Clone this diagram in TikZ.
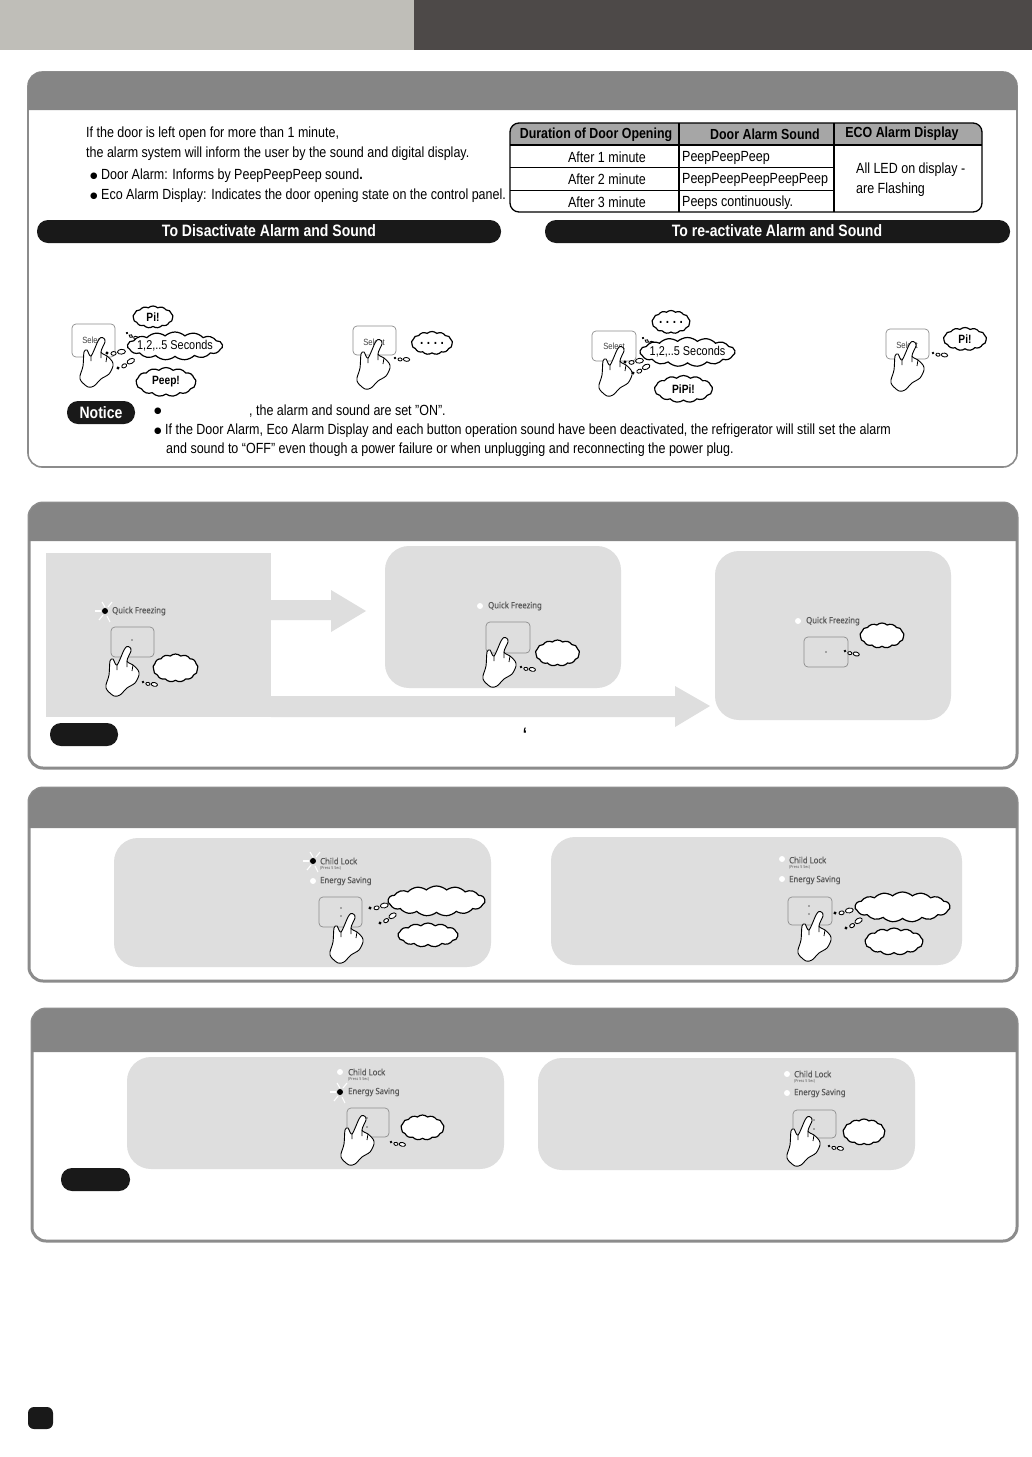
\documentclass[tikz,border=0pt]{standalone}
\usepackage{fontspec}
\setmainfont[FakeStretch=0.85]{Liberation Sans}
\newfontfamily\panelfont[FakeStretch=0.9,FakeBold=0.5]{Noto Sans}
\newfontfamily\tinyfont[FakeStretch=0.9]{Noto Sans}
\newfontfamily\dotfont{DejaVu Sans}
\usetikzlibrary{shapes.symbols}
\definecolor{barlight}{HTML}{BFBEB8}
\definecolor{bardark}{HTML}{4D4948}
\newcommand{\dotmark}{\raisebox{0.8pt}{\dotfont\fontsize{8.6}{8}\selectfont ●}}

\begin{document}
\begin{tikzpicture}[
    x=1pt, y=-1pt,
    txt/.style={anchor=west, inner sep=0pt, font=\fontsize{14.7}{16}\selectfont},
    cell/.style={inner sep=0pt, font=\fontsize{14.7}{16}\selectfont},
    headcell/.style={inner sep=0pt, font=\fontsize{14.6}{16}\selectfont\bfseries},
    pilltext/.style={inner sep=0pt, text=white, font=\fontsize{16.5}{19}\selectfont\bfseries},
    pill/.style={fill=black!90, rounded corners=11pt},
    greybox/.style={fill=black!13, rounded corners=24pt},
    talk/.style={cloud, cloud puffs=13, cloud puff arc=85, cloud ignores aspect, draw=black,
        fill=white, line width=1.2pt, inner sep=0pt},
    saytext/.style={inner sep=0pt, font=\fontsize{12}{14}\selectfont\bfseries},
    secstext/.style={inner sep=0pt, font=\fontsize{12.8}{14}\selectfont},
    dotstext/.style={inner sep=0pt, font=\fontsize{14}{14}\selectfont\bfseries\addfontfeature{LetterSpace=25}},
    button/.style={draw=black!45, rounded corners=4pt, line width=0.7pt},
    ledtext/.style={anchor=west, inner sep=0pt, text=black!65, font=\panelfont\fontsize{8.6}{9}\selectfont},
    tinytext/.style={anchor=west, inner sep=0pt, text=black!65, font=\tinyfont\fontsize{4}{4}\selectfont},
    selecttext/.style={inner sep=0pt, text=black!75, font=\fontsize{9}{9}\selectfont},
    hand/.pic={
        \draw[fill=white, line width=0.9pt] plot [smooth cycle, tension=0.5] coordinates {
            (-1,-0.5) (2,0.5) (3,4) (-1,14) (5,18) (10,23) (11,28) (7,36) (-1,41) (-8,48) (-14,49)
            (-21,43) (-22,38) (-19,28) (-18,14) (-15,12) (-11,18) (-4,3)
        };
        \draw[line width=0.8pt] (-1,14) -- (-1,20) (5,18) -- (4,24) (-11,18) -- (-11,23);
    },
    ledon/.pic={
        \fill[black] (0,0) circle (3);
        \foreach \rx/\ry/\sx/\sy in {-4/0/-10/0, 0/-4/-3/-9, 3/-4/7/-9, -2/4/-6/9, 2/5/5/11}
            \draw[white, line width=1.1pt] (\rx,\ry) -- (\sx,\sy);
    },
    ledoff/.pic={\fill[white] (0,0) circle (3);},
    puffs/.pic={
        \fill[black] (0,0) circle (1.7);
        \draw[fill=white, line width=0.85pt] (6.5,1) ellipse (2.6 and 1.9);
        \draw[fill=white, line width=0.85pt] (14.5,0) ellipse (4 and 2.4);
    }
]
\useasboundingbox (0,0) rectangle (1032,1457);
\fill[white] (0,0) rectangle (1032,1457);

% Top bar
\fill[barlight] (0,0) rectangle (414,50);
\fill[bardark] (414,0) rectangle (1032,50);

% Panels with their grey heads
\foreach \xa/\ya/\xb/\yb/\yh/\lw in {28/72/1017/467/110/1.6, 29/503/1017/768/541/3, 29/788/1017/981/828/3, 32/1009/1017/1241/1052/3} {
    \draw[black!45, line width=\lw pt, rounded corners=14pt] (\xa,\ya) rectangle (\xb,\yb);
    \fill[black!48] (\xa,\yh) [rounded corners=14pt] -- (\xa,\ya) -- (\xb,\ya) [sharp corners] -- (\xb,\yh) -- cycle;
}

% Door alarm text
\node[txt] (doorA) at (86,133.5) {If the door is left open for more than 1 minute,};
\node[txt] (doorB) at (86,153.5) {the alarm system will inform the user by the sound and digital display.};
\node[txt] (doorC) at (90,175.5) {\dotmark\ Door Alarm: Informs by PeepPeepPeep sound\textbf{.}};
\node[txt] (doorD) at (90,195.5) {\dotmark\ Eco Alarm Display: Indicates the door opening state on the control panel.};

% Alarm table
\fill[black!35] (510,145) [rounded corners=9pt] -- (510,123) -- (982,123) [sharp corners] -- (982,145) -- cycle;
\draw[line width=1.1pt] (510,145) -- (982,145);
\draw[line width=0.9pt] (510,167) -- (834,167);
\draw[line width=0.9pt] (510,190) -- (834,190);
\draw[line width=1.1pt] (679,123) -- (679,212);
\draw[line width=1.1pt] (834,123) -- (834,212);
\draw[line width=1.3pt, rounded corners=9pt] (510,123) rectangle (982,212);
\node[headcell] (headDuration) at (596,134.5) {Duration of Door Opening};
\node[headcell] (headSound) at (765,134.5) {Door Alarm Sound};
\node[headcell] (headEco) at (902,133.5) {ECO Alarm Display};
\node[cell] (afterA) at (607,157.5) {After 1 minute};
\node[cell] (afterB) at (607,179.5) {After 2 minute};
\node[cell] (afterC) at (607,202.5) {After 3 minute};
\node[txt] (soundA) at (682,157.5) {PeepPeepPeep};
\node[txt] (soundB) at (682,179.5) {PeepPeepPeepPeepPeep};
\node[txt] (soundC) at (682,202.5) {Peeps continuously.};
\node[txt] (ledA) at (856,170) {All LED on display -};
\node[txt] (ledB) at (856,190) {are Flashing};

% Black bars
\fill[pill] (37,220) rectangle (501,243);
\node[pilltext] (barOff) at (269,231) {To Disactivate Alarm and Sound};
\fill[pill] (545,220) rectangle (1010,243);
\node[pilltext] (barOn) at (777,231) {To re-activate Alarm and Sound};

% Select buttons, first hand
\draw[button] (72,324) rectangle (115,357);
\node[selecttext] (selectA) at (93,340) {Select};
\pic at (102,338) {hand};
\pic at (127,333) [rotate=-30, scale=0.75] {puffs};
\pic at (107,353) [rotate=5] {puffs};
\pic at (118,368) [rotate=28] {puffs};
\node[talk, minimum width=40, minimum height=22, label={[saytext]center:Pi!}] (cloudPiA) at (153,317) {};
\node[talk, cloud puffs=15, minimum width=95, minimum height=28, label={[secstext]center:1,2,..5 Seconds}] (cloudSecA) at (175,346) {};
\node[talk, minimum width=60, minimum height=29, label={[saytext]center:Peep!}] (cloudPeep) at (166,382) {};

% Second hand
\draw[button] (353,326) rectangle (396,355);
\node[selecttext] (selectB) at (374,342) {Select};
\pic at (379,340) {hand};
\pic at (395,358) [rotate=-7, scale=0.8] {puffs};
\node[talk, minimum width=41, minimum height=23, label={[dotstext]center:....}] (cloudDotsA) at (432,343) {};

% Third hand
\draw[button] (592,331) rectangle (636,361);
\node[selecttext] (selectC) at (614,346) {Select};
\pic at (621,347) {hand};
\pic at (643,338) [rotate=-30, scale=0.75] {puffs};
\pic at (625,362) [rotate=5] {puffs};
\pic at (633,373) [rotate=25] {puffs};
\node[talk, minimum width=38, minimum height=23, label={[dotstext]center:....}] (cloudDotsB) at (671,322) {};
\node[talk, cloud puffs=15, minimum width=95, minimum height=29, label={[secstext]center:1,2,..5 Seconds}] (cloudSecB) at (687.5,352) {};
\node[talk, minimum width=58, minimum height=27, label={[saytext]center:PiPi!}] (cloudPiPi) at (683.5,389) {};

% Fourth hand
\draw[button] (886,329) rectangle (929,359);
\node[selecttext] (selectD) at (907,345) {Select};
\pic at (913,342) {hand};
\pic at (933,353) [rotate=-10, scale=0.8] {puffs};
\node[talk, minimum width=43, minimum height=23, label={[saytext]center:Pi!}] (cloudPiB) at (965,339) {};

% Notice
\fill[pill] (67,401) rectangle (135,424);
\node[inner sep=0pt, text=white, font=\fontsize{16.5}{16}\selectfont\bfseries] (notice) at (101,412.5) {Notice};
\node[txt] (noteDot) at (154,411) {\dotmark};
\node[txt] (noteA) at (249,411.5) {, the alarm and sound are set "ON".};
\node[txt] (noteB) at (154,430.5) {\dotmark\ If the Door Alarm, Eco Alarm Display and each button operation sound have been deactivated, the refrigerator will still set the alarm};
\node[txt] (noteC) at (166,449.5) {and sound to “OFF” even though a power failure or when unplugging and reconnecting the power plug.};

% Quick freezing boxes and block arrows
\fill[black!13] (46,553) rectangle (271,717);
\fill[greybox] (385,546) rectangle (621,688);
\fill[greybox] (715,551) rectangle (951,720);
\fill[black!13] (271,600) -- (331,600) -- (331,590) -- (366,611) -- (331,632) -- (331,620) -- (271,620) -- cycle;
\fill[black!13] (271,696) -- (675,696) -- (675,686) -- (710,706) -- (675,727) -- (675,717) -- (271,717) -- cycle;

% Quick freezing, lit
\pic at (105,611) {ledon};
\node[ledtext] (freezeA) at (112,611) {Quick Freezing};
\draw[button] (111,627) rectangle (154,657);
\fill[black!60] (132,640) circle (0.9);
\pic at (128,647) {hand};
\pic at (143,682) [rotate=-12, scale=0.8] {puffs};
\node[talk, minimum width=45, minimum height=28] (cloudFreezeA) at (175.5,668) {};

% Quick freezing, off
\pic at (480,606) {ledoff};
\node[ledtext] (freezeB) at (488,606) {Quick Freezing};
\draw[button] (486,622) rectangle (530,653);
\pic at (505,638) {hand};
\pic at (521,667) [rotate=-12, scale=0.8] {puffs};
\node[talk, minimum width=44, minimum height=26] (cloudFreezeB) at (557.5,653) {};

% Quick freezing, after waiting
\pic at (798,621) {ledoff};
\node[ledtext] (freezeC) at (806,621) {Quick Freezing};
\draw[button] (804,637) rectangle (848,667);
\fill[black!60] (826,652) circle (0.9);
\pic at (845,651) [rotate=-15, scale=0.8] {puffs};
\node[talk, minimum width=44, minimum height=25] (cloudFreezeC) at (882,635.5) {};

\fill[pill] (50,723) rectangle (118,746);
\node[inner sep=0pt, font=\fontsize{18}{18}\selectfont\bfseries] (tick) at (525,734) {`};

% Child lock boxes
\fill[greybox] (114,838) rectangle (491,967);
\fill[greybox] (551,837) rectangle (962,965);

% Child lock, lit
\pic at (313,861) {ledon};
\node[ledtext] (lockA) at (320,861) {Child Lock};
\node[tinytext] (pressA) at (320,868) {(Press 5 Sec)};
\pic at (313,881) {ledoff};
\node[ledtext] (savingA) at (320,881) {Energy Saving};
\draw[button] (319,897) rectangle (362,927);
\fill[black!60] (341,908) circle (0.9) (341,916) circle (0.9);
\pic at (352,914) {hand};
\pic at (370,908) [rotate=10] {puffs};
\pic at (380,923) [rotate=30] {puffs};
\node[talk, cloud puffs=15, minimum width=97, minimum height=30] (cloudLockA) at (436.5,901) {};
\node[talk, minimum width=60, minimum height=24] (cloudLockB) at (428,935) {};

% Child lock, off
\pic at (782,859) {ledoff};
\node[ledtext] (lockB) at (789,860) {Child Lock};
\node[tinytext] (pressB) at (789,867) {(Press 5 Sec)};
\pic at (782,879) {ledoff};
\node[ledtext] (savingB) at (789,880) {Energy Saving};
\draw[button] (788,897) rectangle (832,925);
\fill[black!60] (809,906) circle (0.9) (809,914) circle (0.9);
\pic at (820,912) {hand};
\pic at (835,913) [rotate=10] {puffs};
\pic at (846,928) [rotate=30] {puffs};
\node[talk, cloud puffs=15, minimum width=95, minimum height=30] (cloudLockC) at (902.5,907) {};
\node[talk, minimum width=58, minimum height=27] (cloudLockD) at (894,941.5) {};

% Energy saving boxes
\fill[greybox] (127,1057) rectangle (504,1169);
\fill[greybox] (538,1058) rectangle (915,1170);

% Energy saving, lit
\pic at (340,1072) {ledoff};
\node[ledtext] (lockC) at (348,1072) {Child Lock};
\node[tinytext] (pressC) at (348,1079) {(Press 5 Sec)};
\pic at (340,1092) {ledon};
\node[ledtext] (savingC) at (348,1092) {Energy Saving};
\draw[button] (347,1108) rectangle (389,1137);
\fill[black!60] (367,1118) circle (0.9) (367,1127) circle (0.9);
\pic at (363,1116) {hand};
\pic at (391,1142) [rotate=-12, scale=0.8] {puffs};
\node[talk, minimum width=43, minimum height=25] (cloudSaveA) at (422.5,1127.5) {};

% Energy saving, off
\pic at (787,1074) {ledoff};
\node[ledtext] (lockD) at (794,1074) {Child Lock};
\node[tinytext] (pressD) at (794,1081) {(Press 5 Sec)};
\pic at (787,1093) {ledoff};
\node[ledtext] (savingD) at (794,1093) {Energy Saving};
\draw[button] (793,1110) rectangle (836,1138);
\fill[black!60] (814,1120) circle (0.9) (814,1129) circle (0.9);
\pic at (809,1117) {hand};
\pic at (829,1146) [rotate=-12, scale=0.8] {puffs};
\node[talk, minimum width=42, minimum height=26] (cloudSaveB) at (864,1132) {};

\fill[pill] (61,1168) rectangle (130,1191);

% Page number tab
\fill[black!90, rounded corners=6pt] (28,1407) rectangle (53,1429);

\end{tikzpicture}
\end{document}
